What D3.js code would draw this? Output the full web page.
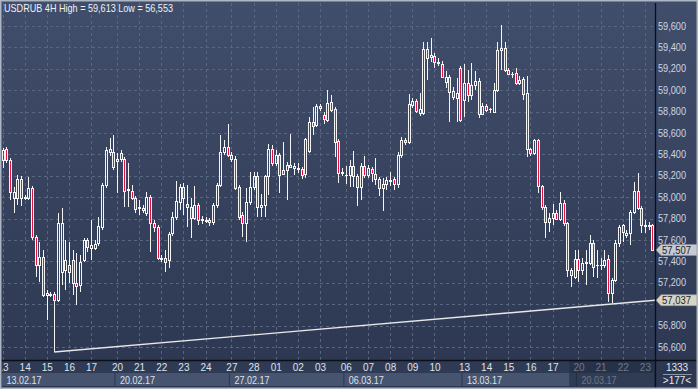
<!DOCTYPE html>
<html><head><meta charset="utf-8">
<script src="https://cdn.jsdelivr.net/npm/d3@7"></script>
<style>html,body{margin:0;padding:0;background:#2e3953;}svg{display:block;}</style>
</head><body>
<svg id="c" width="698" height="389"></svg>
<script>
const title = "USDRUB 4H High = 59,613 Low = 56,553";
const opens = [58.348,58.450,58.348,57.992,57.992,58.170,58.002,57.992,58.086,57.628,57.366,57.441,57.086,57.095,57.095,57.039,57.301,57.320,57.301,57.413,57.198,57.180,57.413,57.600,57.525,57.525,57.572,57.722,58.114,58.422,58.422,58.357,58.413,58.357,58.067,58.058,57.992,57.899,57.880,57.852,58.002,57.759,57.722,57.432,57.432,57.413,57.665,57.815,57.955,58.095,57.936,57.908,57.806,57.927,57.787,57.782,57.768,57.768,57.927,58.114,58.422,58.469,58.394,58.357,58.095,57.834,57.759,57.955,58.095,58.198,57.908,57.927,58.198,58.450,58.320,58.394,58.254,58.254,58.282,58.292,58.268,58.264,58.217,58.432,58.703,58.675,58.834,58.768,58.722,58.890,58.824,58.525,58.226,58.208,58.208,58.292,58.198,58.095,58.292,58.208,58.264,58.217,58.170,58.086,58.123,58.156,58.170,58.123,58.394,58.535,58.516,58.862,58.899,58.787,58.787,59.385,59.310,59.320,59.254,59.245,59.077,59.123,58.993,58.927,59.207,58.908,59.067,58.955,59.049,59.086,58.778,58.852,58.820,58.796,59.002,59.376,59.394,59.189,59.147,59.161,59.067,59.105,58.974,58.450,58.413,58.535,58.105,57.908,57.768,57.806,57.852,57.796,57.946,57.759,57.320,57.255,57.422,57.320,57.385,57.385,57.572,57.366,57.362,57.366,57.422,57.105,57.227,57.572,57.740,57.647,57.665,57.862,58.058,57.899,57.735,57.740,57.740];
const highs = [58.460,58.469,58.366,58.095,58.208,58.198,58.021,58.189,58.105,57.647,57.581,57.507,57.133,57.114,57.114,57.852,57.899,57.600,57.581,57.507,57.479,57.460,57.619,57.619,57.787,57.600,57.815,58.133,58.469,58.553,58.581,58.413,58.441,58.376,58.320,58.114,58.011,57.974,57.927,58.049,58.021,57.787,57.740,57.460,57.507,57.675,57.862,58.151,58.123,58.133,58.114,57.992,58.105,57.946,57.824,57.815,57.806,57.946,58.133,58.581,58.535,58.684,58.422,58.385,58.114,57.862,58.086,58.236,58.236,58.236,58.030,58.208,58.497,58.488,58.441,58.413,58.516,58.329,58.591,58.320,58.320,58.282,58.553,58.750,58.843,58.871,58.871,58.796,59.002,58.955,58.843,58.544,58.273,58.292,58.348,58.432,58.217,58.320,58.385,58.301,58.282,58.366,58.189,58.179,58.189,58.236,58.189,58.422,58.563,58.553,58.964,58.927,58.918,58.974,59.450,59.450,59.488,59.348,59.301,59.273,59.179,59.142,59.030,59.114,59.226,59.245,59.189,59.254,59.179,59.114,58.880,58.871,58.834,59.067,59.450,59.613,59.450,59.207,59.170,59.207,59.133,59.123,59.133,58.460,58.544,58.544,58.114,57.927,57.852,57.936,57.880,58.049,57.974,57.768,57.339,57.507,57.507,57.432,57.507,57.647,57.600,57.507,57.432,57.507,57.460,57.245,57.600,57.740,57.750,57.694,57.880,58.142,58.226,57.918,57.787,57.768,57.750];
const lows = [58.273,58.320,57.974,57.852,57.927,57.918,57.974,57.974,57.600,57.255,57.208,57.067,56.852,57.067,56.553,57.020,57.180,57.133,57.198,57.086,56.992,57.114,57.394,57.488,57.413,57.507,57.544,57.694,58.086,58.385,58.254,58.039,58.329,57.908,57.908,57.974,57.852,57.834,57.852,57.824,57.488,57.675,57.413,57.394,57.301,57.339,57.637,57.787,57.880,57.834,57.722,57.619,57.787,57.740,57.750,57.759,57.731,57.740,57.899,58.095,58.394,58.376,58.329,58.067,57.787,57.628,57.581,57.927,58.067,57.815,57.815,57.815,58.021,58.292,58.292,58.039,58.208,57.974,58.273,58.208,58.226,58.170,58.179,58.413,58.581,58.656,58.806,58.684,58.703,58.796,58.376,58.133,58.198,58.123,58.095,58.095,57.918,57.974,58.179,58.179,58.142,58.114,58.011,57.871,58.067,58.105,58.067,58.086,58.366,58.488,58.497,58.834,58.787,58.759,58.768,59.095,59.264,59.207,59.226,59.114,59.021,58.703,58.908,58.703,58.703,58.750,58.890,58.908,59.002,58.740,58.768,58.796,58.787,58.787,58.983,59.189,59.170,59.142,59.114,59.049,59.049,58.908,58.376,58.385,58.394,58.039,57.880,57.619,57.675,57.740,57.787,57.778,57.731,57.255,57.161,57.236,57.208,57.273,57.180,57.366,57.255,57.245,57.320,57.339,57.020,57.011,57.208,57.535,57.581,57.619,57.553,57.843,57.880,57.665,57.665,57.694,57.507];
const closes = [58.441,58.348,58.049,58.049,58.170,57.992,57.992,58.086,57.628,57.366,57.441,57.086,57.105,57.090,57.039,57.759,57.759,57.413,57.366,57.198,57.170,57.394,57.600,57.535,57.553,57.563,57.731,58.114,58.441,58.450,58.282,58.338,58.357,58.058,58.077,57.992,57.890,57.904,57.899,58.002,57.759,57.722,57.432,57.427,57.394,57.656,57.815,57.964,58.095,57.992,57.908,57.806,57.927,57.787,57.792,57.787,57.787,57.927,58.114,58.422,58.469,58.394,58.357,58.086,57.815,57.759,57.955,58.095,58.198,57.908,57.927,58.198,58.450,58.320,58.394,58.208,58.217,58.301,58.301,58.273,58.273,58.208,58.544,58.703,58.665,58.852,58.852,58.731,58.880,58.815,58.516,58.226,58.236,58.212,58.292,58.198,58.095,58.292,58.208,58.273,58.226,58.170,58.086,58.123,58.161,58.161,58.123,58.394,58.535,58.516,58.871,58.899,58.806,58.824,59.385,59.301,59.329,59.264,59.259,59.123,59.123,58.983,58.936,58.974,58.722,59.067,58.955,59.049,59.086,58.778,58.852,58.815,58.824,59.002,59.376,59.394,59.189,59.151,59.151,59.067,59.095,58.964,58.450,58.413,58.535,58.105,57.908,57.768,57.806,57.852,57.796,57.946,57.759,57.320,57.273,57.422,57.320,57.385,57.390,57.572,57.348,57.371,57.366,57.413,57.105,57.227,57.572,57.722,57.675,57.665,57.862,58.058,57.899,57.740,57.740,57.735,57.507];

const dayLabels = ["13","14","15","16","17","20","21","22","23","24","27","28","01","02","03","06","07","08","09","10","13","14","15","16","17","20","21","22","23"];
const dayIdx    = [0,6,12,18,24,31,37,43,49,55,62,68,74,80,86,93,99,105,111,117,125,131,137,143,149,156,162,168,174];
const weekLabels = ["13.02.17","20.02.17","27.02.17","06.03.17","13.03.17","20.03.17"];
const weekIdx    = [0,31,62,93,125,156];
const priceTicks = [56.6,56.8,57.0,57.2,57.4,57.6,57.8,58.0,58.2,58.4,58.6,58.8,59.0,59.2,59.4,59.6];
const trendPts = [[14,56.553],[177,57.037]];
const lastPrice = 57.507;
const trendPrice = 57.037;
const shadeFromIdx = 153.5;
const cornerTop = "1333", cornerBottom = ">177<";

const W = 698, H = 389, PR = 655, PB = 360, PT = 3, PL = 2;
const n = closes.length;
const x = d3.scaleLinear().domain([0, n - 1]).range([2.5, 2.5 + 3.692 * (n - 1)]);
const y = d3.scaleLinear().domain([56.6, 59.6]).range([347, 26]);
const fmt = v => d3.format(".3f")(v).replace(".", ",");
const FONT = "'Liberation Sans', Arial, sans-serif";

const svg = d3.select("#c");
const defs = svg.append("defs");
const g1 = defs.append("linearGradient").attr("id","bg").attr("x1",0).attr("y1",0).attr("x2",0).attr("y2",1);
g1.append("stop").attr("offset","0%").attr("stop-color","#414e6b");
g1.append("stop").attr("offset","100%").attr("stop-color","#2c3650");
defs.append("clipPath").attr("id","plot").append("rect").attr("x",PL).attr("y",PT).attr("width",PR-PL).attr("height",PB-PT);
defs.append("clipPath").attr("id","axisrow").append("rect").attr("x",PL).attr("y",PB).attr("width",PR-PL).attr("height",H-PB);

svg.append("rect").attr("width",W).attr("height",H).attr("fill","url(#bg)");

// grid
const grid = svg.append("g").attr("clip-path","url(#plot)").attr("stroke","#58667f").attr("stroke-dasharray","3,3").attr("stroke-width",1);
grid.selectAll("line.h").data(priceTicks).join("line")
  .attr("x1",PL).attr("x2",PR).attr("y1",d=>Math.round(y(d))+0.5).attr("y2",d=>Math.round(y(d))+0.5);
grid.selectAll("line.v").data(dayIdx).join("line")
  .attr("y1",PT).attr("y2",PB).attr("x1",d=>Math.round(x(d))+0.5).attr("x2",d=>Math.round(x(d))+0.5);

// candles
const data = d3.range(n).map(i => ({i, o:opens[i], h:highs[i], l:lows[i], c:closes[i]}));
const cg = svg.append("g").attr("clip-path","url(#plot)");
data.forEach(d => {
  const cx = Math.round(x(d.i));
  const top = Math.round(y(Math.max(d.o,d.c)));
  const bot = Math.round(y(Math.min(d.o,d.c)));
  const yh = Math.round(y(d.h)), yl = Math.round(y(d.l));
  const bear = d.c < d.o;
  cg.append("line").attr("x1",cx+0.5).attr("x2",cx+0.5).attr("y1",yh).attr("y2",top).attr("stroke","#f4f4f4");
  cg.append("line").attr("x1",cx+0.5).attr("x2",cx+0.5).attr("y1",bot).attr("y2",yl).attr("stroke","#f4f4f4");
  if (bot - top < 1) {
    cg.append("line").attr("x1",cx-1).attr("x2",cx+2).attr("y1",top+0.5).attr("y2",top+0.5).attr("stroke","#f4f4f4");
  } else {
    cg.append("rect").attr("x",cx-0.5).attr("y",top+0.5).attr("width",2).attr("height",bot-top)
      .attr("fill", bear ? "#e5123f" : "none").attr("stroke","#f4f4f4").attr("stroke-width",1);
  }
});

// trend line
cg.append("line")
  .attr("x1",x(trendPts[0][0])).attr("y1",y(trendPts[0][1]))
  .attr("x2",x(trendPts[1][0])).attr("y2",y(trendPts[1][1]))
  .attr("stroke","#e8e8ea").attr("stroke-width",1.4);

// title
svg.append("text").attr("x",4).attr("y",12).attr("fill","#eef1f6").attr("font-family",FONT).attr("font-size",11)
  .attr("textLength",169).attr("lengthAdjust","spacingAndGlyphs").text(title);

// right axis labels (hidden where a price box sits, as in the terminal)
const boxPrices = [lastPrice, trendPrice];
const visibleTicks = priceTicks.filter(t => boxPrices.every(b => Math.abs(y(t) - y(b)) > 9));
svg.append("g").selectAll("text").data(visibleTicks).join("text")
  .attr("x",658).attr("y",d=>y(d)+3.5).attr("fill","#cdd5e1").attr("font-family",FONT).attr("font-size",10)
  .attr("textLength",28).attr("lengthAdjust","spacingAndGlyphs").text(fmt);

// price boxes
function priceBox(v, fill){
  const yc = y(v);
  svg.append("path").attr("d",`M656,${yc} L661,${yc-5.5} L697,${yc-5.5} L697,${yc+5.5} L661,${yc+5.5} Z`)
    .attr("fill",fill).attr("stroke","#8e939c").attr("stroke-width",0.6);
  svg.append("text").attr("x",662).attr("y",yc+3.6).attr("fill","#1d1f24").attr("font-family",FONT).attr("font-size",10)
    .attr("textLength",29).attr("lengthAdjust","spacingAndGlyphs").text(fmt(v));
}
priceBox(trendPrice, "#d6d4c4");
priceBox(lastPrice, "#c6cad2");

// bottom axis rows
const ax = svg.append("g");
ax.append("rect").attr("x",PL).attr("y",PB).attr("width",PR-PL).attr("height",13).attr("fill","#2f3a55");
const wk = weekIdx.map((wi,k) => ({
  x0: k===0 ? PL : x(wi)-1.5,
  x1: k===weekIdx.length-1 ? PR : x(weekIdx[k+1])-1.5,
  label: weekLabels[k]
}));
ax.selectAll("rect.wk").data(wk).join("rect").attr("class","wk")
  .attr("x",d=>d.x0).attr("y",373).attr("width",d=>d.x1-d.x0-1).attr("height",13).attr("fill","#47546f");
ax.selectAll("text.wk").data(wk).join("text").attr("class","wk")
  .attr("x",d=>d.x0+4.5).attr("y",383.5).attr("fill","#dde3ec").attr("font-family",FONT).attr("font-size",10)
  .attr("textLength",35).attr("lengthAdjust","spacingAndGlyphs").text(d=>d.label);
ax.append("g").attr("clip-path","url(#axisrow)").selectAll("text").data(dayIdx).join("text")
  .attr("x",d=>x(d)+0.5).attr("y",371).attr("text-anchor","middle").attr("fill","#dde3ec")
  .attr("font-family",FONT).attr("font-size",10).text((d,k)=>dayLabels[k]);
ax.append("rect").attr("x",x(shadeFromIdx)).attr("y",PB+1).attr("width",PR-x(shadeFromIdx)).attr("height",386-PB-1)
  .attr("fill","#222b42").attr("opacity",0.6);

// separators
svg.append("line").attr("x1",0).attr("x2",W).attr("y1",PB+0.5).attr("y2",PB+0.5).attr("stroke","#0c0f16").attr("stroke-width",1.3);
svg.append("line").attr("x1",PR+0.5).attr("x2",PR+0.5).attr("y1",PT).attr("y2",H).attr("stroke","#0c0f16").attr("stroke-width",1.3);

// corner
svg.append("text").attr("x",677).attr("y",371).attr("text-anchor","middle").attr("fill","#e3e8f0").attr("font-family",FONT).attr("font-size",10).text(cornerTop);
svg.append("line").attr("x1",663).attr("x2",692).attr("y1",374.5).attr("y2",374.5).attr("stroke","#8c96a8");
svg.append("text").attr("x",677).attr("y",384).attr("text-anchor","middle").attr("fill","#e3e8f0").attr("font-family",FONT).attr("font-size",10).text(cornerBottom);

// outer frame
svg.append("rect").attr("x",0.75).attr("y",0.75).attr("width",W-1.5).attr("height",H-1.5)
  .attr("fill","none").attr("stroke","#aeb6c4").attr("stroke-width",1.5);
</script>
</body></html>
